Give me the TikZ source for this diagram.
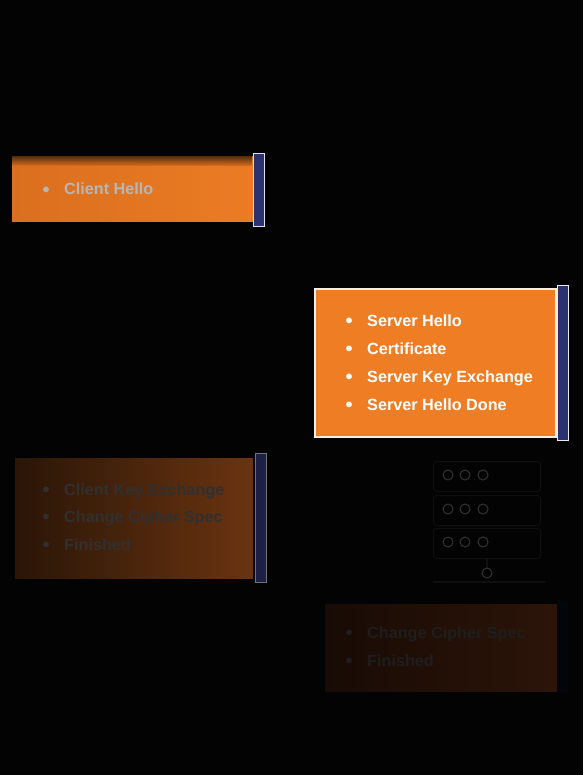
\documentclass[tikz,border=0pt]{standalone}
\usepackage{fontspec}
\setmainfont{Liberation Sans}
\definecolor{bg}{HTML}{030303}
\definecolor{orA}{HTML}{DA6F1F}
\definecolor{orB}{HTML}{EE7D24}
\definecolor{orCl}{HTML}{2A1507}
\definecolor{orCr}{HTML}{6A3410}
\definecolor{orDl}{HTML}{180B05}
\definecolor{orDr}{HTML}{2C1408}
\definecolor{barblue}{HTML}{2C316F}
\definecolor{bardim}{HTML}{1E1F45}
\definecolor{txtA}{HTML}{B6B6B6}
\definecolor{txtC}{HTML}{303030}
\definecolor{txtD}{HTML}{1E1E1E}
\definecolor{ico}{HTML}{0F0F0F}
\newcommand{\blt}{\makebox[21pt][l]{\hspace{-0.5pt}\raisebox{-1.3pt}{\fontsize{20}{20}\selectfont •}}}
\tikzset{
  panel/.style={inner sep=0pt, outer sep=0pt, anchor=north west},
  barbox/.style={inner sep=0pt, outer sep=0pt, anchor=north west, minimum width=11pt},
  item/.style={anchor=base west, inner sep=0pt, font=\fontsize{16.2}{19}\selectfont\bfseries},
  unit/.style={draw=ico, line width=1pt, rounded corners=3pt, inner sep=0pt, anchor=north west, minimum width=107pt, minimum height=30pt},
  led/.style={circle, draw=ico!85!white, line width=1pt, minimum size=10pt, inner sep=0pt}
}
\begin{document}
\begin{tikzpicture}[x=1pt,y=-1pt]
\useasboundingbox (0,0) rectangle (583,775);
\fill[bg] (0,0) rectangle (583,775);

% Box 1: Client Hello
\node[panel, minimum width=241pt, minimum height=65pt, left color=orA, right color=orB!90!orA] (b1) at (12,157) {};
\shade[top color=black!55!orA, bottom color=orA] (12,157) rectangle (252,166);
\node[barbox, minimum height=73pt, fill=barblue, draw=white!85!barblue, line width=0.8pt] (bar1) at (253,153) {};
\node[item, text=txtA] (c1) at (43,195) {\blt Client Hello};

% Box 2: server messages
\node[panel, minimum width=241pt, minimum height=148pt, fill=orB, draw=white!88!orB, line width=1.2pt] (b2) at (315,289) {};
\node[barbox, minimum height=155pt, fill=barblue, draw=white!90!barblue, line width=0.8pt] (bar2) at (557,285) {};
\node[item, text=white] (s1) at (346,326) {\blt Server Hello};
\node[item, text=white] (s2) at (346,354) {\blt Certificate};
\node[item, text=white] (s3) at (346,382) {\blt Server Key Exchange};
\node[item, text=white] (s4) at (346,410) {\blt Server Hello Done};

% Box 3: dim client messages
\node[panel, minimum width=238pt, minimum height=120pt, left color=orCl, right color=orCr] (b3) at (15,458) {};
\node[barbox, minimum height=129pt, fill=bardim, draw=black!55!white, line width=0.8pt] (bar3) at (255,453) {};
\node[item, text=txtC] (k1) at (43,495) {\blt Client Key Exchange};
\node[item, text=txtC] (k2) at (43,522) {\blt Change Cipher Spec};
\node[item, text=txtC] (k3) at (43,550) {\blt Finished};

% Server icon (faint)
\node[unit] (u1) at (433,461) {};
\node[unit] (u2) at (433,495) {};
\node[unit] (u3) at (433,528) {};
\foreach \yy/\u in {475/1,509/2,542/3}{
  \node[led] (l\u a) at (448,\yy) {};
  \node[led] (l\u b) at (465,\yy) {};
  \node[led] (l\u c) at (483,\yy) {};
}
\draw[ico, line width=2pt] (u3.south) -- ++(0,14) coordinate (stand);
\draw[ico, line width=2pt] (433,582) -- (545,582);
\node[led, fill=bg] (hub) at (stand) {};

% Box 4: very dim server messages
\node[panel, minimum width=232pt, minimum height=87pt, left color=orDl, right color=orDr] (b4) at (325,604) {};
\node[barbox, minimum height=92pt, fill=black!85!bardim] (bar4) at (557,601) {};
\node[item, text=txtD] (f1) at (346,638) {\blt Change Cipher Spec};
\node[item, text=txtD] (f2) at (346,666) {\blt Finished};
\end{tikzpicture}
\end{document}
